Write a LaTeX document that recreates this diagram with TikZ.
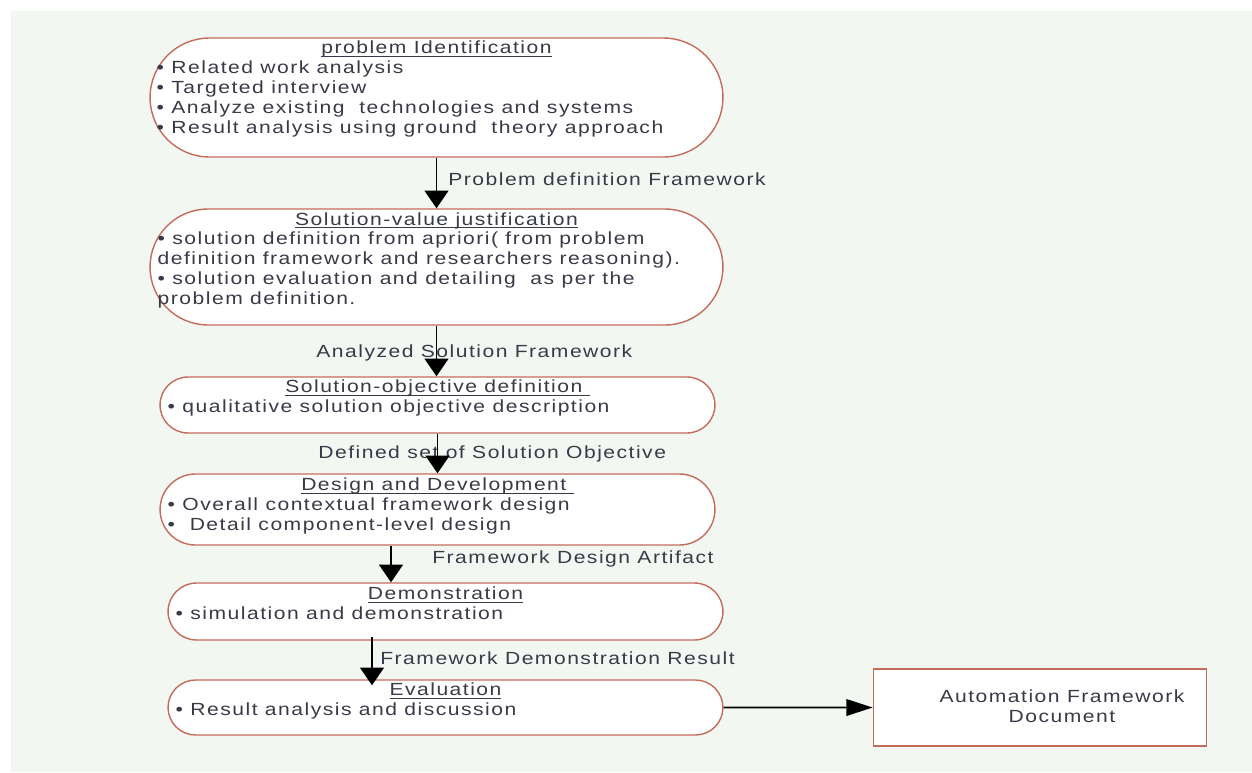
\documentclass[tikz,border=0pt]{standalone}
\usepackage{fontspec}
\setmainfont{Liberation Sans}[FakeStretch=1.2,LetterSpace=8.5]
\usetikzlibrary{arrows.meta,shapes.misc,positioning,calc}
\definecolor{boxline}{RGB}{196,108,92}
\definecolor{txtgray}{RGB}{56,58,72}
\definecolor{bgtint}{RGB}{243,247,242}
\newcommand{\headline}[1]{\underline{\smash{#1}}}

\begin{document}
\begin{tikzpicture}[x=0.02cm,y=-0.02cm,>={Triangle[width=13.5pt,length=10pt]},
            phase/.style={rounded rectangle,draw=boxline,line width=0.8pt,fill=white,inner sep=0pt},
            outbox/.style={rectangle,draw=boxline,line width=0.8pt,fill=white,inner sep=0pt},
            head/.style={anchor=base,inner sep=0pt,text=txtgray,font=\fontsize{10}{11.4}\selectfont},
            items/.style={anchor=base west,inner sep=0pt,text=txtgray,font=\fontsize{10}{11.4}\selectfont},
            flowlabel/.style={anchor=base west,inner sep=0pt,text=txtgray,font=\fontsize{10}{11.4}\selectfont},
            flow/.style={->,line width=0.9pt}]
            % Canvas
            \useasboundingbox (0,0) rectangle (1252,772);
            \fill[bgtint] (11,11) rectangle (1252,772);

            % Define the phases as nodes
            \node[phase,minimum width=11.46cm,minimum height=2.38cm] (ident)   at (436.5,97.5) {};
            \node[phase,minimum width=11.46cm,minimum height=2.32cm] (justif)  at (436.5,267)  {};
            \node[phase,minimum width=11.1cm,minimum height=1.12cm]  (objdef)  at (437.5,405)  {};
            \node[phase,minimum width=11.1cm,minimum height=1.42cm]  (design)  at (437.5,509.5) {};
            \node[phase,minimum width=11.1cm,minimum height=1.14cm]  (demo)    at (445.5,611.5) {};
            \node[phase,minimum width=11.1cm,minimum height=1.1cm]   (evalbox) at (445.5,707.5) {};
            \node[outbox,minimum width=6.66cm,minimum height=1.54cm,right=2.98cm of evalbox] (doc) {};

            % Headings
            \node[head] (identhead)   at ($(ident.north)+(0,16.5)$)   {\headline{problem Identification}};
            \node[head] (justifhead)  at ($(justif.north)+(0,17)$)    {\headline{Solution-value justification}};
            \node[head] (objdefhead)  at ($(objdef.north)+(0,16.5)$)  {\headline{Solution-objective definition\ }};
            \node[head] (designhead)  at ($(design.north)+(0,17.5)$)  {\headline{Design and Development\ }};
            \node[head] (demohead)    at ($(demo.north)+(0,17.5)$)    {\headline{Demonstration}};
            \node[head] (evalhead)    at ($(evalbox.north)+(0,16.5)$) {\headline{Evaluation}};

            % Phase contents
            \node[items] (identitems) at ($(ident.west |- ident.north)+(7,36.5)$) {\begin{tabular}[t]{@{}l@{}}
              \textbullet\ Related work analysis\\
              \textbullet\ Targeted interview\\
              \textbullet\ Analyze existing~ technologies and systems\\
              \textbullet\ Result analysis using ground~ theory approach
            \end{tabular}};
            \node[items] (justifitems) at ($(justif.west |- justif.north)+(8,36.5)$) {\begin{tabular}[t]{@{}l@{}}
              \textbullet\ solution definition from apriori( from problem\\
              definition framework and researchers reasoning).\\
              \textbullet\ solution evaluation and detailing~ as per the\\
              problem definition.
            \end{tabular}};
            \node[items] (objdefitems) at ($(objdef.west |- objdef.north)+(8,36.5)$) {\textbullet\ qualitative solution objective description};
            \node[items] (designitems) at ($(design.west |- design.north)+(8,37.5)$) {\begin{tabular}[t]{@{}l@{}}
              \textbullet\ Overall contextual framework design\\
              \textbullet\ \ Detail component-level design
            \end{tabular}};
            \node[items] (demoitems) at ($(demo.west |- demo.north)+(8,37)$) {\textbullet\ simulation and demonstration};
            \node[items] (evalitems) at ($(evalbox.west |- evalbox.north)+(8,36.5)$) {\textbullet\ Result analysis and discussion};
            \node[text=txtgray,align=center,inner sep=0pt,font=\fontsize{10}{11.4}\selectfont] (doctext) at (1062,706) {Automation Framework\\Document};

            % Labels of the flows
            \node[flowlabel] (pdf)  at (448,185) {Problem definition Framework};
            \node[flowlabel] (asf)  at (316,357) {Analyzed Solution Framework};
            \node[flowlabel] (dsso) at (318,458) {Defined set of Solution Objective};
            \node[flowlabel] (fda)  at (432,563) {Framework Design Artifact};
            \node[flowlabel] (fdr)  at (380,664) {Framework Demonstration Result};

            % Connect the phases with arrows
            \coordinate (a4) at ($(design.south)+(-46.5,0)$);
            \coordinate (a5) at ($(demo.south)+(-73.5,-4)$);
            \draw[flow] (ident) -- (justif);
            \draw[flow] (justif.south) -- (justif.south |- objdef.north);
            \draw[flow] (objdef.south) -- (design.north);
            \draw[flow] (a4) -- (a4 |- demo.north);
            \draw[flow,shorten >=-3.4pt] (a5) -- (a5 |- evalbox.north);
            \draw[flow,>={Triangle[width=9.5pt,length=15pt]}] (evalbox) -- (doc);

        \end{tikzpicture}
\end{document}
